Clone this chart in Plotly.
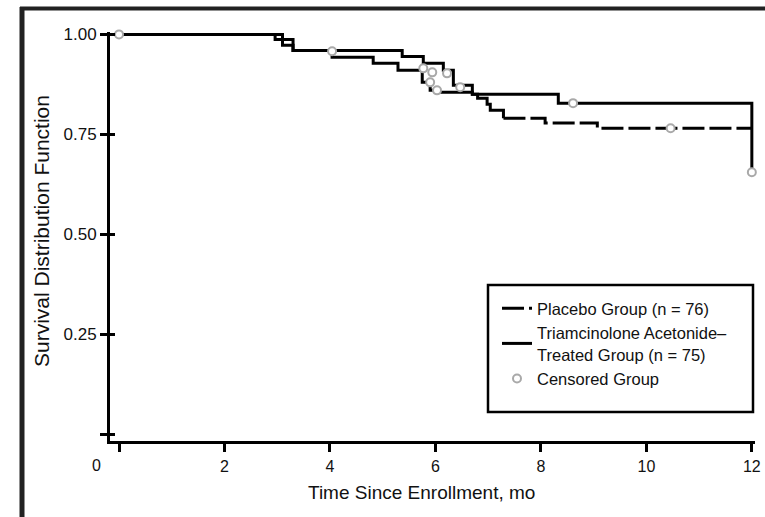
import plotly.graph_objects as go

# Kaplan-Meier step data (months since enrollment, survival probability)
placebo_time = [0, 3.10, 3.30, 5.37, 5.77, 6.15, 6.34, 6.70, 6.80, 6.98, 7.04, 7.29, 8.08, 9.07, 12.0]
placebo_surv = [1.0, 0.973, 0.960, 0.945, 0.928, 0.910, 0.873, 0.850, 0.840, 0.825, 0.810, 0.790, 0.778, 0.765, 0.765]

triam_time = [0, 2.96, 3.30, 4.04, 4.82, 5.29, 5.75, 5.90, 6.03, 6.70, 8.33, 12.0]
triam_surv = [1.0, 0.987, 0.960, 0.943, 0.928, 0.910, 0.880, 0.860, 0.855, 0.850, 0.828, 0.655]

# censored observations
cens_time = [0, 4.04, 5.77, 5.94, 5.90, 6.03, 6.22, 6.47, 8.61, 10.46, 12.0]
cens_surv = [1.0, 0.958, 0.915, 0.905, 0.880, 0.860, 0.9025, 0.868, 0.828, 0.765, 0.655]

x_ticks = [0, 2, 4, 6, 8, 10, 12]
x_labels = ["", "2", "4", "6", "8", "10", "12"]
y_ticks = [0, 0.25, 0.50, 0.75, 1.00]
y_labels = ["", "0.25", "0.50", "0.75", "1.00"]

FONT = "Liberation Sans, Arial, sans-serif"
INK = "#111111"
SPLIT = 7.29  # placebo curve drawn dashed from here on

early_t = [t for t in placebo_time if t <= SPLIT]
early_s = placebo_surv[:len(early_t)]
late_t = [t for t in placebo_time if t >= SPLIT]
late_s = placebo_surv[len(placebo_time) - len(late_t):]

fig = go.Figure()
fig.add_trace(go.Scatter(x=early_t, y=early_s, mode="lines", line_shape="hv",
                         line=dict(color="black", width=3), showlegend=False,
                         hoverinfo="skip"))
fig.add_trace(go.Scatter(x=late_t, y=late_s, mode="lines", line_shape="hv",
                         line=dict(color="black", width=3, dash="22px,5px"),
                         name="Placebo Group (n = 76)"))
fig.add_trace(go.Scatter(x=triam_time, y=triam_surv, mode="lines", line_shape="hv",
                         line=dict(color="black", width=3),
                         name="Triamcinolone Acetonide–<br>Treated Group (n = 75)"))
fig.add_trace(go.Scatter(x=cens_time, y=cens_surv, mode="markers",
                         marker=dict(symbol="circle", size=8, color="white",
                                     line=dict(color="#a9a9a9", width=2)),
                         cliponaxis=False, name="Censored Group"))
# overlay axis carrying the inward half of the y ticks
fig.add_trace(go.Scatter(x=[], y=[], yaxis="y2", showlegend=False))

PW, PH, L, B = 645, 409, 110, 76


def px(x):
    return (x - L) / PW


def py(y):
    return (517 - B - y) / PH


def label(text, x, y, size, angle=0):
    return dict(text=text, xref="paper", yref="paper", x=px(x), y=py(y),
                xanchor="center", yanchor="middle", textangle=angle,
                showarrow=False, font=dict(size=size, family=FONT, color=INK))


fig.update_layout(
    width=765, height=517,
    margin=dict(l=L, r=765 - L - PW, t=517 - B - PH, b=B, autoexpand=False),
    paper_bgcolor="white", plot_bgcolor="white",
    font=dict(family=FONT, color=INK),
    xaxis=dict(range=[-0.171, 12.06], tickvals=x_ticks, ticktext=x_labels,
               showline=True, linecolor="black", linewidth=3,
               ticks="outside", ticklen=8, tickwidth=3, tickcolor="black",
               ticklabelstandoff=1,
               tickfont=dict(size=16, family=FONT, color=INK),
               showgrid=False, zeroline=False),
    yaxis=dict(range=[-0.0175, 1.006], tickvals=y_ticks, ticktext=y_labels,
               showline=True, linecolor="black", linewidth=3,
               ticks="outside", ticklen=7, tickwidth=3, tickcolor="black",
               tickfont=dict(size=17, family=FONT, color=INK),
               showgrid=False, zeroline=False),
    yaxis2=dict(range=[-0.0175, 1.006], tickvals=y_ticks, overlaying="y",
                anchor="x", side="left", ticks="inside", ticklen=5, tickwidth=3,
                tickcolor="black", showticklabels=False, showline=False,
                showgrid=False, zeroline=False),
    legend=dict(x=px(497), y=py(291), xanchor="left", yanchor="top",
                bgcolor="rgba(0,0,0,0)", borderwidth=0,
                font=dict(size=16.5, family=FONT, color=INK),
                tracegroupgap=0, itemwidth=30),
    showlegend=True,
    shapes=[
        # legend frame
        dict(type="rect", xref="paper", yref="paper",
             x0=px(488), x1=px(753), y0=py(412), y1=py(285),
             line=dict(color="black", width=2.5)),
        # page frame edges
        dict(type="line", xref="paper", yref="paper",
             x0=px(22), x1=px(22), y0=py(517), y1=py(7),
             line=dict(color="#222222", width=5)),
        dict(type="line", xref="paper", yref="paper",
             x0=px(20), x1=px(765), y0=py(8.5), y1=py(8.5),
             line=dict(color="#222222", width=4)),
    ],
    annotations=[
        label("Survival Distribution Function", 41, 231, 21, angle=-90),
        label("Time Since Enrollment, mo", 421, 493, 19),
        label("0", 96, 466, 16),
    ],
)

fig.write_html("out.html", config={"displayModeBar": False})
